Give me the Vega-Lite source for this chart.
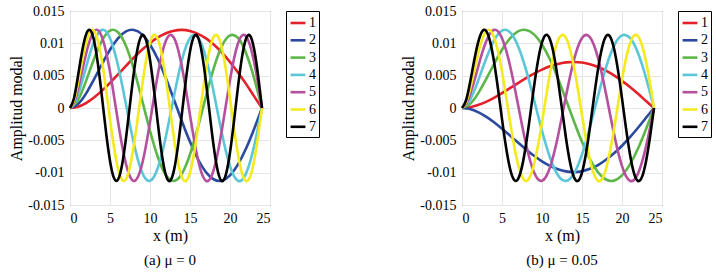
{
"$schema": "https://vega.github.io/schema/vega-lite/v6.json",
"padding": {"left": 8, "top": 3, "right": 5, "bottom": 3},
"config": {
 "font": "'Liberation Serif', 'DejaVu Serif', serif",
 "view": {"stroke": "#262626", "strokeWidth": 1},
 "axis": {"labelFont": "'Liberation Serif', 'DejaVu Serif', serif", "labelFontSize": 14, "labelColor": "#000", "titleFont": "'Liberation Serif', 'DejaVu Serif', serif", "titleFontSize": 16, "titleFontWeight": "normal", "titleColor": "#000", "domain": false, "ticks": false, "gridColor": "#e6e6e6", "gridWidth": 1, "labelPadding": 6},
 "legend": {"orient": "right", "offset": 16, "strokeColor": "#000", "padding": 3, "symbolType": "stroke", "symbolSize": 220, "symbolStrokeWidth": 2.6, "labelFont": "'Liberation Serif', 'DejaVu Serif', serif", "labelFontSize": 14, "labelColor": "#000", "rowPadding": 1.3, "labelOffset": 2, "fillColor": "#fff"},
 "title": {"font": "'Liberation Serif', 'DejaVu Serif', serif", "fontSize": 15, "fontWeight": "normal", "color": "#000"}
},
"datasets": {
"a": [
{"m":"1","x":0,"y":0},{"m":"1","x":1,"y":0.000202},{"m":"1","x":2,"y":0.000763},{"m":"1","x":3,"y":0.001613},{"m":"1","x":4,"y":0.00268},{"m":"1","x":5,"y":0.003899},{"m":"1","x":6,"y":0.005197},{"m":"1","x":7,"y":0.006522},{"m":"1","x":8,"y":0.007812},{"m":"1","x":9,"y":0.009004},{"m":"1","x":10,"y":0.010053},{"m":"1","x":11,"y":0.01092},{"m":"1","x":12,"y":0.01156},{"m":"1","x":13,"y":0.011951},{"m":"1","x":14,"y":0.012074},{"m":"1","x":15,"y":0.011914},{"m":"1","x":16,"y":0.011468},{"m":"1","x":17,"y":0.010756},{"m":"1","x":18,"y":0.009771},{"m":"1","x":19,"y":0.008549},{"m":"1","x":20,"y":0.007112},{"m":"1","x":21,"y":0.005494},{"m":"1","x":22,"y":0.003729},{"m":"1","x":23,"y":0.00184},{"m":"1","x":24,"y":0},
{"m":"2","x":0,"y":0},{"m":"2","x":1,"y":0.000626},{"m":"2","x":2,"y":0.002232},{"m":"2","x":3,"y":0.004416},{"m":"2","x":4,"y":0.006793},{"m":"2","x":5,"y":0.009012},{"m":"2","x":6,"y":0.010774},{"m":"2","x":7,"y":0.011845},{"m":"2","x":8,"y":0.012072},{"m":"2","x":9,"y":0.011391},{"m":"2","x":10,"y":0.009828},{"m":"2","x":11,"y":0.007491},{"m":"2","x":12,"y":0.004563},{"m":"2","x":13,"y":0.001283},{"m":"2","x":14,"y":-0.002078},{"m":"2","x":15,"y":-0.005237},{"m":"2","x":16,"y":-0.007928},{"m":"2","x":17,"y":-0.009924},{"m":"2","x":18,"y":-0.011056},{"m":"2","x":19,"y":-0.01123},{"m":"2","x":20,"y":-0.01043},{"m":"2","x":21,"y":-0.008729},{"m":"2","x":22,"y":-0.006273},{"m":"2","x":23,"y":-0.003275},{"m":"2","x":24,"y":0},
{"m":"3","x":0,"y":0},{"m":"3","x":1,"y":0.001242},{"m":"3","x":2,"y":0.004156},{"m":"3","x":3,"y":0.007566},{"m":"3","x":4,"y":0.010435},{"m":"3","x":5,"y":0.011972},{"m":"3","x":6,"y":0.011719},{"m":"3","x":7,"y":0.009604},{"m":"3","x":8,"y":0.005923},{"m":"3","x":9,"y":0.001283},{"m":"3","x":10,"y":-0.003523},{"m":"3","x":11,"y":-0.00766},{"m":"3","x":12,"y":-0.010404},{"m":"3","x":13,"y":-0.011276},{"m":"3","x":14,"y":-0.010126},{"m":"3","x":15,"y":-0.007164},{"m":"3","x":16,"y":-0.002919},{"m":"3","x":17,"y":0.001848},{"m":"3","x":18,"y":0.00629},{"m":"3","x":19,"y":0.00961},{"m":"3","x":20,"y":0.011217},{"m":"3","x":21,"y":0.010827},{"m":"3","x":22,"y":0.008506},{"m":"3","x":23,"y":0.004671},{"m":"3","x":24,"y":0},
{"m":"4","x":0,"y":0},{"m":"4","x":0.5,"y":0.000562},{"m":"4","x":1,"y":0.002018},{"m":"4","x":1.5,"y":0.004028},{"m":"4","x":2,"y":0.006266},{"m":"4","x":2.5,"y":0.008431},{"m":"4","x":3,"y":0.010253},{"m":"4","x":3.5,"y":0.011522},{"m":"4","x":4,"y":0.012081},{"m":"4","x":4.5,"y":0.011846},{"m":"4","x":5,"y":0.010801},{"m":"4","x":5.5,"y":0.009002},{"m":"4","x":6,"y":0.00657},{"m":"4","x":6.5,"y":0.003677},{"m":"4","x":7,"y":0.000533},{"m":"4","x":7.5,"y":-0.002626},{"m":"4","x":8,"y":-0.005564},{"m":"4","x":8.5,"y":-0.008063},{"m":"4","x":9,"y":-0.009924},{"m":"4","x":9.5,"y":-0.011018},{"m":"4","x":10,"y":-0.011259},{"m":"4","x":10.5,"y":-0.010629},{"m":"4","x":11,"y":-0.00918},{"m":"4","x":11.5,"y":-0.007018},{"m":"4","x":12,"y":-0.00432},{"m":"4","x":12.5,"y":-0.001285},{"m":"4","x":13,"y":0.001848},{"m":"4","x":13.5,"y":0.004842},{"m":"4","x":14,"y":0.007463},{"m":"4","x":14.5,"y":0.009512},{"m":"4","x":15,"y":0.010827},{"m":"4","x":15.5,"y":0.011312},{"m":"4","x":16,"y":0.010928},{"m":"4","x":16.5,"y":0.009704},{"m":"4","x":17,"y":0.007734},{"m":"4","x":17.5,"y":0.005169},{"m":"4","x":18,"y":0.002207},{"m":"4","x":18.5,"y":-0.000925},{"m":"4","x":19,"y":-0.003986},{"m":"4","x":19.5,"y":-0.00674},{"m":"4","x":20,"y":-0.008976},{"m":"4","x":20.5,"y":-0.010522},{"m":"4","x":21,"y":-0.011259},{"m":"4","x":21.5,"y":-0.011131},{"m":"4","x":22,"y":-0.010147},{"m":"4","x":22.5,"y":-0.008383},{"m":"4","x":23,"y":-0.005973},{"m":"4","x":23.5,"y":-0.003107},{"m":"4","x":24,"y":0},
{"m":"5","x":0,"y":0},{"m":"5","x":0.5,"y":0.000836},{"m":"5","x":1,"y":0.002915},{"m":"5","x":1.5,"y":0.005603},{"m":"5","x":2,"y":0.00831},{"m":"5","x":2.5,"y":0.010523},{"m":"5","x":3,"y":0.011845},{"m":"5","x":3.5,"y":0.012022},{"m":"5","x":4,"y":0.010964},{"m":"5","x":4.5,"y":0.008746},{"m":"5","x":5,"y":0.005591},{"m":"5","x":5.5,"y":0.001843},{"m":"5","x":6,"y":-0.002078},{"m":"5","x":6.5,"y":-0.005725},{"m":"5","x":7,"y":-0.00868},{"m":"5","x":7.5,"y":-0.010606},{"m":"5","x":8,"y":-0.011281},{"m":"5","x":8.5,"y":-0.010629},{"m":"5","x":9,"y":-0.008729},{"m":"5","x":9.5,"y":-0.005805},{"m":"5","x":10,"y":-0.002199},{"m":"5","x":10.5,"y":0.001666},{"m":"5","x":11,"y":0.005337},{"m":"5","x":11.5,"y":0.008386},{"m":"5","x":12,"y":0.010454},{"m":"5","x":12.5,"y":0.011302},{"m":"5","x":13,"y":0.010827},{"m":"5","x":13.5,"y":0.009087},{"m":"5","x":14,"y":0.006286},{"m":"5","x":14.5,"y":0.002749},{"m":"5","x":15,"y":-0.001109},{"m":"5","x":15.5,"y":-0.004837},{"m":"5","x":16,"y":-0.008},{"m":"5","x":16.5,"y":-0.010228},{"m":"5","x":17,"y":-0.011259},{"m":"5","x":17.5,"y":-0.010975},{"m":"5","x":18,"y":-0.009407},{"m":"5","x":18.5,"y":-0.00674},{"m":"5","x":19,"y":-0.003284},{"m":"5","x":19.5,"y":0.000555},{"m":"5","x":20,"y":0.00433},{"m":"5","x":20.5,"y":0.007598},{"m":"5","x":21,"y":0.009978},{"m":"5","x":21.5,"y":0.011191},{"m":"5","x":22,"y":0.011096},{"m":"5","x":22.5,"y":0.009704},{"m":"5","x":23,"y":0.007177},{"m":"5","x":23.5,"y":0.003812},{"m":"5","x":24,"y":0},
{"m":"6","x":0,"y":0},{"m":"6","x":0.5,"y":0.001157},{"m":"6","x":1,"y":0.0039},{"m":"6","x":1.5,"y":0.007182},{"m":"6","x":2,"y":0.010064},{"m":"6","x":2.5,"y":0.011807},{"m":"6","x":3,"y":0.011947},{"m":"6","x":3.5,"y":0.010347},{"m":"6","x":4,"y":0.007191},{"m":"6","x":4.5,"y":0.002951},{"m":"6","x":5,"y":-0.001709},{"m":"6","x":5.5,"y":-0.006041},{"m":"6","x":6,"y":-0.009348},{"m":"6","x":6.5,"y":-0.011092},{"m":"6","x":7,"y":-0.010992},{"m":"6","x":7.5,"y":-0.00907},{"m":"6","x":8,"y":-0.005645},{"m":"6","x":8.5,"y":-0.001285},{"m":"6","x":9,"y":0.003289},{"m":"6","x":9.5,"y":0.007322},{"m":"6","x":10,"y":0.010149},{"m":"6","x":10.5,"y":0.011302},{"m":"6","x":11,"y":0.010589},{"m":"6","x":11.5,"y":0.008134},{"m":"6","x":12,"y":0.00433},{"m":"6","x":12.5,"y":-0.000185},{"m":"6","x":13,"y":-0.004671},{"m":"6","x":13.5,"y":-0.008383},{"m":"6","x":14,"y":-0.010713},{"m":"6","x":14.5,"y":-0.011276},{"m":"6","x":15,"y":-0.009978},{"m":"6","x":15.5,"y":-0.007032},{"m":"6","x":16,"y":-0.002928},{"m":"6","x":16.5,"y":0.00166},{"m":"6","x":17,"y":0.005974},{"m":"6","x":17.5,"y":0.009303},{"m":"6","x":18,"y":0.011096},{"m":"6","x":18.5,"y":0.011059},{"m":"6","x":19,"y":0.009197},{"m":"6","x":19.5,"y":0.005816},{"m":"6","x":20,"y":0.001477},{"m":"6","x":20.5,"y":-0.003107},{"m":"6","x":21,"y":-0.007177},{"m":"6","x":21.5,"y":-0.010063},{"m":"6","x":22,"y":-0.01129},{"m":"6","x":22.5,"y":-0.010652},{"m":"6","x":23,"y":-0.008257},{"m":"6","x":23.5,"y":-0.004501},{"m":"6","x":24,"y":0},
{"m":"7","x":0,"y":0},{"m":"7","x":0.5,"y":0.001516},{"m":"7","x":1,"y":0.00494},{"m":"7","x":1.5,"y":0.008666},{"m":"7","x":2,"y":0.011346},{"m":"7","x":2.5,"y":0.012058},{"m":"7","x":3,"y":0.010442},{"m":"7","x":3.5,"y":0.006729},{"m":"7","x":4,"y":0.001656},{"m":"7","x":4.5,"y":-0.0037},{"m":"7","x":5,"y":-0.008188},{"m":"7","x":5.5,"y":-0.010836},{"m":"7","x":6,"y":-0.011069},{"m":"7","x":6.5,"y":-0.008844},{"m":"7","x":7,"y":-0.00466},{"m":"7","x":7.5,"y":0.000562},{"m":"7","x":8,"y":0.005661},{"m":"7","x":8.5,"y":0.009512},{"m":"7","x":9,"y":0.011261},{"m":"7","x":9.5,"y":0.010522},{"m":"7","x":10,"y":0.00746},{"m":"7","x":10.5,"y":0.002749},{"m":"7","x":11,"y":-0.002569},{"m":"7","x":11.5,"y":-0.007319},{"m":"7","x":12,"y":-0.010452},{"m":"7","x":12.5,"y":-0.011276},{"m":"7","x":13,"y":-0.009608},{"m":"7","x":13.5,"y":-0.005816},{"m":"7","x":14,"y":-0.00074},{"m":"7","x":14.5,"y":0.004501},{"m":"7","x":15,"y":0.008746},{"m":"7","x":15.5,"y":0.011059},{"m":"7","x":16,"y":0.010928},{"m":"7","x":16.5,"y":0.008383},{"m":"7","x":17,"y":0.003986},{"m":"7","x":17.5,"y":-0.001293},{"m":"7","x":18,"y":-0.006286},{"m":"7","x":18.5,"y":-0.00989},{"m":"7","x":19,"y":-0.011308},{"m":"7","x":19.5,"y":-0.010228},{"m":"7","x":20,"y":-0.006887},{"m":"7","x":20.5,"y":-0.002025},{"m":"7","x":21,"y":0.003284},{"m":"7","x":21.5,"y":0.007873},{"m":"7","x":22,"y":0.010713},{"m":"7","x":22.5,"y":0.011191},{"m":"7","x":23,"y":0.009197},{"m":"7","x":23.5,"y":0.005169},{"m":"7","x":24,"y":0}
],
"b": [
{"m":"1","x":0,"y":0},{"m":"1","x":1,"y":0.000119},{"m":"1","x":2,"y":0.00045},{"m":"1","x":3,"y":0.000952},{"m":"1","x":4,"y":0.001581},{"m":"1","x":5,"y":0.0023},{"m":"1","x":6,"y":0.003066},{"m":"1","x":7,"y":0.003848},{"m":"1","x":8,"y":0.004609},{"m":"1","x":9,"y":0.005312},{"m":"1","x":10,"y":0.005932},{"m":"1","x":11,"y":0.006443},{"m":"1","x":12,"y":0.00682},{"m":"1","x":13,"y":0.007051},{"m":"1","x":14,"y":0.007123},{"m":"1","x":15,"y":0.00703},{"m":"1","x":16,"y":0.006766},{"m":"1","x":17,"y":0.006346},{"m":"1","x":18,"y":0.005765},{"m":"1","x":19,"y":0.005044},{"m":"1","x":20,"y":0.004196},{"m":"1","x":21,"y":0.003241},{"m":"1","x":22,"y":0.0022},{"m":"1","x":23,"y":0.001085},{"m":"1","x":24,"y":0},
{"m":"2","x":0,"y":0},{"m":"2","x":1,"y":-0.000166},{"m":"2","x":2,"y":-0.000626},{"m":"2","x":3,"y":-0.001323},{"m":"2","x":4,"y":-0.002197},{"m":"2","x":5,"y":-0.003197},{"m":"2","x":6,"y":-0.004262},{"m":"2","x":7,"y":-0.005348},{"m":"2","x":8,"y":-0.006406},{"m":"2","x":9,"y":-0.007383},{"m":"2","x":10,"y":-0.008244},{"m":"2","x":11,"y":-0.008955},{"m":"2","x":12,"y":-0.009479},{"m":"2","x":13,"y":-0.0098},{"m":"2","x":14,"y":-0.0099},{"m":"2","x":15,"y":-0.00977},{"m":"2","x":16,"y":-0.009404},{"m":"2","x":17,"y":-0.00882},{"m":"2","x":18,"y":-0.008012},{"m":"2","x":19,"y":-0.00701},{"m":"2","x":20,"y":-0.005832},{"m":"2","x":21,"y":-0.004505},{"m":"2","x":22,"y":-0.003058},{"m":"2","x":23,"y":-0.001509},{"m":"2","x":24,"y":0},
{"m":"3","x":0,"y":0},{"m":"3","x":1,"y":0.000626},{"m":"3","x":2,"y":0.002232},{"m":"3","x":3,"y":0.004416},{"m":"3","x":4,"y":0.006793},{"m":"3","x":5,"y":0.009012},{"m":"3","x":6,"y":0.010774},{"m":"3","x":7,"y":0.011845},{"m":"3","x":8,"y":0.012072},{"m":"3","x":9,"y":0.011391},{"m":"3","x":10,"y":0.009828},{"m":"3","x":11,"y":0.007491},{"m":"3","x":12,"y":0.004563},{"m":"3","x":13,"y":0.001283},{"m":"3","x":14,"y":-0.002078},{"m":"3","x":15,"y":-0.005237},{"m":"3","x":16,"y":-0.007928},{"m":"3","x":17,"y":-0.009924},{"m":"3","x":18,"y":-0.011056},{"m":"3","x":19,"y":-0.01123},{"m":"3","x":20,"y":-0.01043},{"m":"3","x":21,"y":-0.008729},{"m":"3","x":22,"y":-0.006273},{"m":"3","x":23,"y":-0.003275},{"m":"3","x":24,"y":0},
{"m":"4","x":0,"y":0},{"m":"4","x":1,"y":0.001242},{"m":"4","x":2,"y":0.004156},{"m":"4","x":3,"y":0.007566},{"m":"4","x":4,"y":0.010435},{"m":"4","x":5,"y":0.011972},{"m":"4","x":6,"y":0.011719},{"m":"4","x":7,"y":0.009604},{"m":"4","x":8,"y":0.005923},{"m":"4","x":9,"y":0.001283},{"m":"4","x":10,"y":-0.003523},{"m":"4","x":11,"y":-0.00766},{"m":"4","x":12,"y":-0.010404},{"m":"4","x":13,"y":-0.011276},{"m":"4","x":14,"y":-0.010126},{"m":"4","x":15,"y":-0.007164},{"m":"4","x":16,"y":-0.002919},{"m":"4","x":17,"y":0.001848},{"m":"4","x":18,"y":0.00629},{"m":"4","x":19,"y":0.00961},{"m":"4","x":20,"y":0.011217},{"m":"4","x":21,"y":0.010827},{"m":"4","x":22,"y":0.008506},{"m":"4","x":23,"y":0.004671},{"m":"4","x":24,"y":0},
{"m":"5","x":0,"y":0},{"m":"5","x":0.5,"y":0.000562},{"m":"5","x":1,"y":0.002018},{"m":"5","x":1.5,"y":0.004028},{"m":"5","x":2,"y":0.006266},{"m":"5","x":2.5,"y":0.008431},{"m":"5","x":3,"y":0.010253},{"m":"5","x":3.5,"y":0.011522},{"m":"5","x":4,"y":0.012081},{"m":"5","x":4.5,"y":0.011846},{"m":"5","x":5,"y":0.010801},{"m":"5","x":5.5,"y":0.009002},{"m":"5","x":6,"y":0.00657},{"m":"5","x":6.5,"y":0.003677},{"m":"5","x":7,"y":0.000533},{"m":"5","x":7.5,"y":-0.002626},{"m":"5","x":8,"y":-0.005564},{"m":"5","x":8.5,"y":-0.008063},{"m":"5","x":9,"y":-0.009924},{"m":"5","x":9.5,"y":-0.011018},{"m":"5","x":10,"y":-0.011259},{"m":"5","x":10.5,"y":-0.010629},{"m":"5","x":11,"y":-0.00918},{"m":"5","x":11.5,"y":-0.007018},{"m":"5","x":12,"y":-0.00432},{"m":"5","x":12.5,"y":-0.001285},{"m":"5","x":13,"y":0.001848},{"m":"5","x":13.5,"y":0.004842},{"m":"5","x":14,"y":0.007463},{"m":"5","x":14.5,"y":0.009512},{"m":"5","x":15,"y":0.010827},{"m":"5","x":15.5,"y":0.011312},{"m":"5","x":16,"y":0.010928},{"m":"5","x":16.5,"y":0.009704},{"m":"5","x":17,"y":0.007734},{"m":"5","x":17.5,"y":0.005169},{"m":"5","x":18,"y":0.002207},{"m":"5","x":18.5,"y":-0.000925},{"m":"5","x":19,"y":-0.003986},{"m":"5","x":19.5,"y":-0.00674},{"m":"5","x":20,"y":-0.008976},{"m":"5","x":20.5,"y":-0.010522},{"m":"5","x":21,"y":-0.011259},{"m":"5","x":21.5,"y":-0.011131},{"m":"5","x":22,"y":-0.010147},{"m":"5","x":22.5,"y":-0.008383},{"m":"5","x":23,"y":-0.005973},{"m":"5","x":23.5,"y":-0.003107},{"m":"5","x":24,"y":0},
{"m":"6","x":0,"y":0},{"m":"6","x":0.5,"y":0.000836},{"m":"6","x":1,"y":0.002915},{"m":"6","x":1.5,"y":0.005603},{"m":"6","x":2,"y":0.00831},{"m":"6","x":2.5,"y":0.010523},{"m":"6","x":3,"y":0.011845},{"m":"6","x":3.5,"y":0.012022},{"m":"6","x":4,"y":0.010964},{"m":"6","x":4.5,"y":0.008746},{"m":"6","x":5,"y":0.005591},{"m":"6","x":5.5,"y":0.001843},{"m":"6","x":6,"y":-0.002078},{"m":"6","x":6.5,"y":-0.005725},{"m":"6","x":7,"y":-0.00868},{"m":"6","x":7.5,"y":-0.010606},{"m":"6","x":8,"y":-0.011281},{"m":"6","x":8.5,"y":-0.010629},{"m":"6","x":9,"y":-0.008729},{"m":"6","x":9.5,"y":-0.005805},{"m":"6","x":10,"y":-0.002199},{"m":"6","x":10.5,"y":0.001666},{"m":"6","x":11,"y":0.005337},{"m":"6","x":11.5,"y":0.008386},{"m":"6","x":12,"y":0.010454},{"m":"6","x":12.5,"y":0.011302},{"m":"6","x":13,"y":0.010827},{"m":"6","x":13.5,"y":0.009087},{"m":"6","x":14,"y":0.006286},{"m":"6","x":14.5,"y":0.002749},{"m":"6","x":15,"y":-0.001109},{"m":"6","x":15.5,"y":-0.004837},{"m":"6","x":16,"y":-0.008},{"m":"6","x":16.5,"y":-0.010228},{"m":"6","x":17,"y":-0.011259},{"m":"6","x":17.5,"y":-0.010975},{"m":"6","x":18,"y":-0.009407},{"m":"6","x":18.5,"y":-0.00674},{"m":"6","x":19,"y":-0.003284},{"m":"6","x":19.5,"y":0.000555},{"m":"6","x":20,"y":0.00433},{"m":"6","x":20.5,"y":0.007598},{"m":"6","x":21,"y":0.009978},{"m":"6","x":21.5,"y":0.011191},{"m":"6","x":22,"y":0.011096},{"m":"6","x":22.5,"y":0.009704},{"m":"6","x":23,"y":0.007177},{"m":"6","x":23.5,"y":0.003812},{"m":"6","x":24,"y":0},
{"m":"7","x":0,"y":0},{"m":"7","x":0.5,"y":0.001157},{"m":"7","x":1,"y":0.0039},{"m":"7","x":1.5,"y":0.007182},{"m":"7","x":2,"y":0.010064},{"m":"7","x":2.5,"y":0.011807},{"m":"7","x":3,"y":0.011947},{"m":"7","x":3.5,"y":0.010347},{"m":"7","x":4,"y":0.007191},{"m":"7","x":4.5,"y":0.002951},{"m":"7","x":5,"y":-0.001709},{"m":"7","x":5.5,"y":-0.006041},{"m":"7","x":6,"y":-0.009348},{"m":"7","x":6.5,"y":-0.011092},{"m":"7","x":7,"y":-0.010992},{"m":"7","x":7.5,"y":-0.00907},{"m":"7","x":8,"y":-0.005645},{"m":"7","x":8.5,"y":-0.001285},{"m":"7","x":9,"y":0.003289},{"m":"7","x":9.5,"y":0.007322},{"m":"7","x":10,"y":0.010149},{"m":"7","x":10.5,"y":0.011302},{"m":"7","x":11,"y":0.010589},{"m":"7","x":11.5,"y":0.008134},{"m":"7","x":12,"y":0.00433},{"m":"7","x":12.5,"y":-0.000185},{"m":"7","x":13,"y":-0.004671},{"m":"7","x":13.5,"y":-0.008383},{"m":"7","x":14,"y":-0.010713},{"m":"7","x":14.5,"y":-0.011276},{"m":"7","x":15,"y":-0.009978},{"m":"7","x":15.5,"y":-0.007032},{"m":"7","x":16,"y":-0.002928},{"m":"7","x":16.5,"y":0.00166},{"m":"7","x":17,"y":0.005974},{"m":"7","x":17.5,"y":0.009303},{"m":"7","x":18,"y":0.011096},{"m":"7","x":18.5,"y":0.011059},{"m":"7","x":19,"y":0.009197},{"m":"7","x":19.5,"y":0.005816},{"m":"7","x":20,"y":0.001477},{"m":"7","x":20.5,"y":-0.003107},{"m":"7","x":21,"y":-0.007177},{"m":"7","x":21.5,"y":-0.010063},{"m":"7","x":22,"y":-0.01129},{"m":"7","x":22.5,"y":-0.010652},{"m":"7","x":23,"y":-0.008257},{"m":"7","x":23.5,"y":-0.004501},{"m":"7","x":24,"y":0}
]
},
"spacing": 80,
"resolve": {"scale": {"color": "independent"}, "legend": {"color": "independent"}},
"hconcat": [
 {
  "width": 200, "height": 194,
  "data": {"name": "a"},
  "title": {"text": "(a)  μ = 0", "orient": "bottom", "offset": 10, "anchor": "middle"},
  "mark": {"type": "line", "interpolate": "natural", "strokeWidth": 2.6},
  "encoding": {
   "x": {"field": "x", "type": "quantitative", "scale": {"domain": [0, 25]}, "axis": {"values": [0, 5, 10, 15, 20, 25], "title": "x (m)", "titlePadding": 2}},
   "y": {"field": "y", "type": "quantitative", "scale": {"domain": [-0.015, 0.015]}, "axis": {"values": [-0.015, -0.01, -0.005, 0, 0.005, 0.01, 0.015], "labelExpr": "'' + datum.value", "title": "Amplitud modal", "titlePadding": 3}},
   "color": {"field": "m", "type": "nominal", "scale": {"domain": ["1","2","3","4","5","6","7"], "range": ["#E4202A", "#2B4A9F", "#5DB648", "#5CC6D9", "#B5509F", "#F4EA1E", "#000000"]}, "legend": {"title": null}}
  }
 },
 {
  "width": 200, "height": 194,
  "data": {"name": "b"},
  "title": {"text": "(b)  μ = 0.05", "orient": "bottom", "offset": 10, "anchor": "middle"},
  "mark": {"type": "line", "interpolate": "natural", "strokeWidth": 2.6},
  "encoding": {
   "x": {"field": "x", "type": "quantitative", "scale": {"domain": [0, 25]}, "axis": {"values": [0, 5, 10, 15, 20, 25], "title": "x (m)", "titlePadding": 2}},
   "y": {"field": "y", "type": "quantitative", "scale": {"domain": [-0.015, 0.015]}, "axis": {"values": [-0.015, -0.01, -0.005, 0, 0.005, 0.01, 0.015], "labelExpr": "'' + datum.value", "title": "Amplitud modal", "titlePadding": 3}},
   "color": {"field": "m", "type": "nominal", "scale": {"domain": ["1","2","3","4","5","6","7"], "range": ["#E4202A", "#2B4A9F", "#5DB648", "#5CC6D9", "#B5509F", "#F4EA1E", "#000000"]}, "legend": {"title": null}}
  }
 }
]
}
